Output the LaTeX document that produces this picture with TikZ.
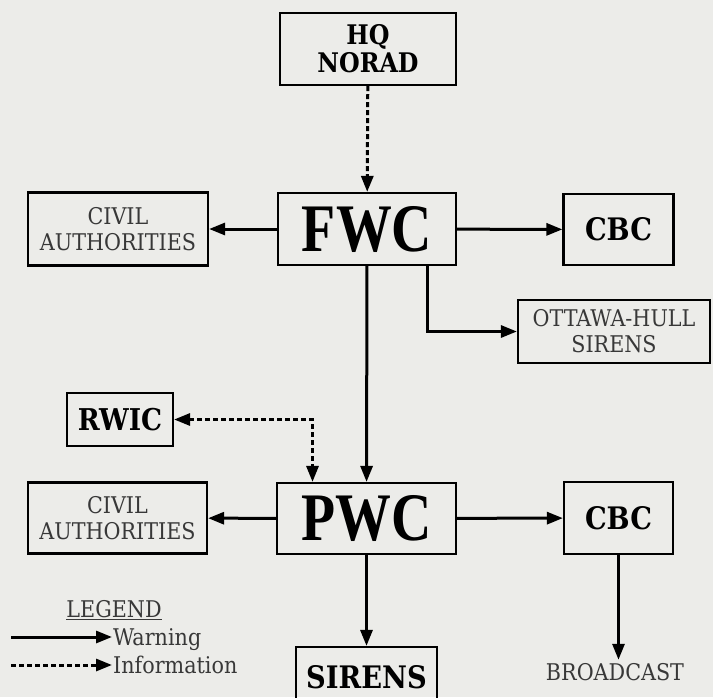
\documentclass[tikz,border=0pt]{standalone}
\usepackage{fontspec}
\usetikzlibrary{arrows.meta}
\newfontfamily\slabfont[FakeStretch=0.88]{DejaVu Serif}
\newfontfamily\bigfont[FakeStretch=0.82]{Liberation Serif}
\newfontfamily\lightfont{DejaVu Serif Condensed}
\definecolor{paper}{RGB}{236,236,233}
\begin{document}
\begin{tikzpicture}[x=1pt,y=-1pt,
    box/.style={draw, line width=2.2pt, align=center, inner sep=0pt},
    slab/.style={font=\slabfont\bfseries\fontsize{#1}{28}\selectfont},
    big/.style={font=\bigfont\bfseries\fontsize{68}{68}\selectfont},
    light/.style={font=\lightfont\fontsize{23}{26}\selectfont, text=black!78},
    warnarrow/.style={-{Triangle[length=16pt,width=12pt]}, line width=3pt},
    infoarrow/.style={warnarrow, dash pattern=on 5pt off 3pt}]
%% paper and page size, the sirens box runs off the bottom edge
    \clip (0,0) rectangle (713,697);
    \fill[paper] (0,0) rectangle (713,697);
%% top row
    \node[box, slab=27, minimum width=176, minimum height=72] (hq) at (368,49) {HQ\\NORAD};
    \node[box, big, minimum width=178, minimum height=72] (fwc) at (367,229) {FWC};
    \node[box, light, minimum width=180, minimum height=73] (civtop) at (118,229) {CIVIL\\AUTHORITIES};
    \node[box, slab=31, minimum width=110, minimum height=71] (cbctop) at (618.5,229.5) {CBC};
    \node[box, light, minimum width=192, minimum height=63] (ottawa) at (614,331.5) {OTTAWA-HULL\\SIRENS};
%% lower row
    \node[box, slab=30, minimum width=106, minimum height=53] (rwic) at (120,419.5) {RWIC};
    \node[box, light, minimum width=179, minimum height=71] (civbot) at (117.5,518) {CIVIL\\AUTHORITIES};
    \node[box, big, minimum width=179, minimum height=71] (pwc) at (366.5,518.5) {PWC};
    \node[box, slab=31, minimum width=109, minimum height=72] (cbcbot) at (618.5,518) {CBC};
    \node[box, slab=31, minimum width=141, minimum height=60] (sirens) at (366.5,677) {SIRENS};
    \node[light] (bcast) at (615,672) {BROADCAST};
%% connectors
    \draw[infoarrow] (hq) -- (fwc);
    \draw[warnarrow] (fwc) -- (civtop);
    \draw[warnarrow] (fwc) -- (cbctop);
    \draw[warnarrow] ([xshift=60pt]fwc.south) |- (ottawa);
    \draw[warnarrow] (fwc) -- (pwc);
    \draw[infoarrow, {Triangle[length=16pt,width=12pt]}-{Triangle[length=16pt,width=12pt]}] (rwic) -| ([xshift=-54pt]pwc.north);
    \draw[warnarrow] (pwc) -- (civbot);
    \draw[warnarrow] (pwc) -- (cbcbot);
    \draw[warnarrow] (pwc) -- (sirens);
    \draw[warnarrow] (cbcbot.south) -- (cbcbot.south |- bcast.north);
%% legend
    \node[light] (legend) at (114,610) {\underline{LEGEND}};
    \node[anchor=base west, light, inner sep=1pt] (warn) at (112,645) {Warning};
    \node[anchor=base west, light, inner sep=1pt] (info) at (112,673) {Information};
    \coordinate (warnstart) at (11,637);
    \coordinate (infostart) at (11,665);
    \draw[warnarrow] (warnstart) -- (warnstart -| warn.west);
    \draw[infoarrow] (infostart) -- (infostart -| info.west);
\end{tikzpicture}
\end{document}
